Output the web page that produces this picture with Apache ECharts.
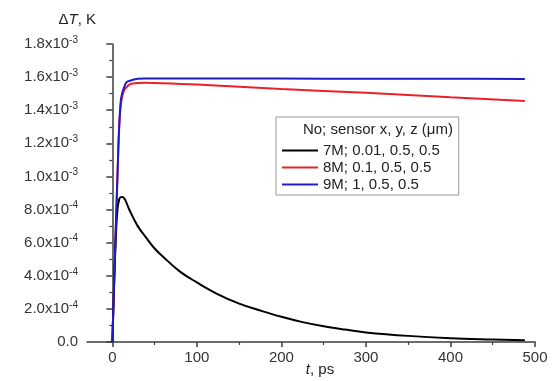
<!DOCTYPE html>
<html>
<head>
<meta charset="utf-8">
<script src="https://cdn.jsdelivr.net/npm/echarts@6/dist/echarts.min.js"></script>
<style>
html,body{margin:0;padding:0;background:#fff;}
#chart{width:554px;height:381px;}
</style>
</head>
<body>
<div id="chart"></div>
<script>
// ---- data ----
const seriesNames = ['7M; 0.01, 0.5, 0.5', '8M; 0.1, 0.5, 0.5', '9M; 1, 0.5, 0.5'];
const legendTitle = 'No; sensor x, y, z (\u03bcm)';

const tBlack = [0, 2, 4, 6, 8, 10, 12, 15, 20, 30, 40, 50, 60, 80, 100, 125, 150, 175, 200, 225, 250, 275, 300, 350, 400, 450, 488];
const vBlack = [0, 0.00033, 0.00062, 0.0008, 0.00086, 0.000875, 0.000876, 0.00086, 0.0008, 0.0007, 0.00063, 0.000565, 0.000515, 0.000425, 0.00036, 0.000288, 0.000232, 0.00019, 0.000152, 0.00012, 0.000095, 0.000075, 0.000058, 0.000037, 0.000023, 0.000015, 0.00001];

const tRise = [0, 2, 4, 6, 8, 10, 12, 14, 17, 22, 30, 38, 50, 100, 200, 300, 400, 488];
const vRed  = [0, 0.00035, 0.00068, 0.00099, 0.00128, 0.00143, 0.00149, 0.00152, 0.00154, 0.00156, 0.001564, 0.001566, 0.001565, 0.001555, 0.001528, 0.001505, 0.001478, 0.001455];
const vBlue = [0, 0.00035, 0.00068, 0.001, 0.0013, 0.00146, 0.00151, 0.00154, 0.00157, 0.00158, 0.00159, 0.001592, 0.001592, 0.001592, 0.001591, 0.00159, 0.00159, 0.001588];

const xMajorTicks = [0, 100, 200, 300, 400, 500];
const xMinorTicks = [50, 150, 250, 350, 450];
const colors = ['#000000', '#e8222a', '#1c1cc8'];

function pairs(xs, ys) { return xs.map((x, i) => [x, ys[i]]); }

const FONT = 'Liberation Sans, Arial, sans-serif';
const axisColor = '#3c3c3c';

function yLabel(v) {
  if (Math.abs(v) < 1e-12) return '{m|0.0}';
  const e = Math.floor(Math.log10(v) + 1e-9);
  const m = (v / Math.pow(10, e)).toFixed(1);
  return '{m|' + m + 'x10}{s|' + e + '}';
}

const chart = echarts.init(document.getElementById('chart'), null, {renderer: 'canvas'});
chart.setOption({
  animation: false,
  backgroundColor: '#fff',
  title: {
    text: legendTitle,
    right: 101,
    top: 122,
    padding: 0,
    textStyle: {fontFamily: FONT, fontSize: 15, fontWeight: 'normal', color: '#222'}
  },
  legend: {
    data: seriesNames,
    orient: 'vertical',
    left: 276,
    top: 117,
    padding: [26, 19, 3, 6],
    itemGap: 2,
    itemWidth: 36,
    itemHeight: 2,
    icon: 'rect',
    borderColor: '#999',
    borderWidth: 1,
    textStyle: {fontFamily: FONT, fontSize: 15, color: '#222'}
  },
  grid: {left: 87, right: 19, top: 44, bottom: 39, containLabel: false, outerBoundsMode: 'none'},
  xAxis: [{
    type: 'value',
    min: -30,
    max: 500,
    position: 'bottom',
    name: '{i|t}{n|, ps}',
    nameLocation: 'middle',
    nameGap: 20,
    nameMoveOverlap: false,
    nameTextStyle: {
      padding: [0, 0, 0, 18],
      rich: {
        i: {fontFamily: FONT, fontSize: 15, fontStyle: 'italic', color: '#222'},
        n: {fontFamily: FONT, fontSize: 15, color: '#222'}
      }
    },
    axisLine: {show: true, onZero: false, lineStyle: {color: axisColor, width: 1.5}},
    axisTick: {show: true, inside: false, length: 5, customValues: xMajorTicks, lineStyle: {color: axisColor, width: 1.5}},
    axisLabel: {customValues: xMajorTicks, margin: 8, fontFamily: FONT, fontSize: 15, color: '#333'},
    splitLine: {show: false}
  }, {
    type: 'value',
    min: -30,
    max: 500,
    position: 'bottom',
    axisLine: {show: false},
    axisTick: {show: true, inside: false, length: 3, customValues: xMinorTicks, lineStyle: {color: axisColor, width: 1.2}},
    axisLabel: {show: false},
    splitLine: {show: false}
  }],
  yAxis: {
    type: 'value',
    min: 0,
    max: 0.0018,
    interval: 0.0002,
    name: '{a|\u0394}{i|T}{a|, K}',
    nameLocation: 'end',
    nameGap: 17,
    nameTextStyle: {
      padding: [0, 70, 0, 0],
      rich: {
        a: {fontFamily: FONT, fontSize: 15, color: '#222'},
        i: {fontFamily: FONT, fontSize: 15, fontStyle: 'italic', color: '#222'}
      }
    },
    axisLine: {show: true, lineStyle: {color: axisColor, width: 1.5}},
    axisTick: {show: true, inside: false, length: 6, lineStyle: {color: axisColor, width: 1.5}},
    minorTick: {show: true, splitNumber: 2, length: 3, lineStyle: {color: axisColor, width: 1.2}},
    axisLabel: {
      margin: 9,
      formatter: yLabel,
      rich: {
        m: {fontFamily: FONT, fontSize: 15, color: '#333'},
        s: {fontFamily: FONT, fontSize: 10, color: '#333', padding: [0, 0, 8, 0]}
      }
    },
    splitLine: {show: false}
  },
  series: [
    {name: seriesNames[0], type: 'line', xAxisIndex: 0, data: pairs(tBlack, vBlack), showSymbol: false, smooth: 0.4, color: colors[0], lineStyle: {width: 2, color: colors[0]}, z: 3},
    {name: seriesNames[1], type: 'line', xAxisIndex: 0, data: pairs(tRise, vRed), showSymbol: false, smooth: 0.4, color: colors[1], lineStyle: {width: 2, color: colors[1]}, z: 2},
    {name: seriesNames[2], type: 'line', xAxisIndex: 0, data: pairs(tRise, vBlue), showSymbol: false, smooth: 0.4, color: colors[2], lineStyle: {width: 2, color: colors[2]}, z: 4}
  ]
});
</script>
</body>
</html>
